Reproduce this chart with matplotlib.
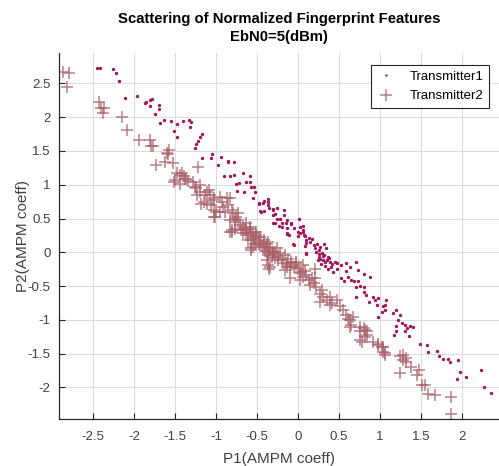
import numpy as np
import matplotlib.pyplot as plt

plt.rcParams["font.family"] = ["Liberation Sans", "DejaVu Sans"]

# Transmitter1 feature pairs (P1, P2)
t1_pts = [
    (-2.45, 2.73), (-2.41, 2.73), (-2.26, 2.71), (-2.22, 2.65), (-2.18, 2.54),
    (-2.11, 2.29), (-1.96, 2.31), (-1.87, 2.21), (-1.85, 2.23), (-1.81, 2.25),
    (-1.78, 2.27), (-1.80, 2.17), (-1.69, 2.18), (-1.69, 2.12), (-1.74, 2.04),
    (-1.68, 1.91), (-1.63, 1.96), (-1.55, 1.94), (-1.51, 1.79), (-1.48, 1.71),
    (-1.47, 1.90), (-1.40, 1.95), (-1.33, 1.96), (-1.31, 1.93), (-1.32, 1.85),
    (-1.17, 1.75), (-1.20, 1.70), (-1.22, 1.65), (-1.24, 1.61), (-1.25, 1.54),
    (-1.17, 1.40), (-1.05, 1.45), (-1.06, 1.39), (-0.94, 1.41), (-0.98, 1.29),
    (-0.85, 1.35), (-0.85, 1.33), (-0.78, 1.34), (-0.67, 1.18), (-0.90, 1.13),
    (-0.83, 1.13), (-0.78, 1.14), (-0.72, 1.03), (-0.75, 1.01), (-0.59, 1.13),
    (-0.58, 1.04), (-0.54, 0.96), (-0.52, 0.89), (-0.74, 0.91), (-0.66, 0.89),
    (-0.55, 0.81), (-0.48, 0.71), (-0.42, 0.76), (-0.43, 0.73), (-0.37, 0.79),
    (-0.37, 0.74), (-0.46, 0.61), (-0.41, 0.61), (-0.35, 0.66), (-0.64, 1.04),
    (-0.57, 0.97), (-0.47, 0.73), (-0.36, 0.70), (-0.45, 0.60), (-0.30, 0.63),
    (-0.31, 0.64), (-0.26, 0.66), (-0.28, 0.57), (-0.26, 0.50), (-0.30, 0.55),
    (-0.17, 0.55), (-0.17, 0.62), (-0.22, 0.50), (-0.20, 0.43), (-0.30, 0.44),
    (-0.28, 0.43), (-0.23, 0.39), (-0.15, 0.43), (-0.14, 0.48), (-0.08, 0.43),
    (-0.13, 0.36), (-0.20, 0.38), (-0.08, 0.42), (-0.05, 0.36), (-0.14, 0.28),
    (-0.11, 0.26), (-0.14, 0.27), (0.01, 0.49), (0.02, 0.38), (0.06, 0.39),
    (0.06, 0.33), (0.00, 0.30), (0.02, 0.29), (0.06, 0.30), (0.07, 0.26),
    (0.08, 0.24), (0.00, 0.24), (-0.06, 0.13), (-0.05, 0.11), (0.10, 0.14),
    (0.09, 0.09), (0.10, 0.18), (0.13, 0.21), (0.10, -0.01), (0.10, -0.03),
    (0.15, 0.16), (0.17, 0.19), (0.19, 0.11), (0.23, 0.13), (0.21, 0.07),
    (0.25, 0.04), (0.27, 0.08), (0.32, 0.12), (0.34, 0.06), (0.29, -0.01),
    (0.25, -0.07), (0.32, -0.04), (0.36, -0.07), (0.27, -0.10), (0.30, -0.11),
    (0.33, -0.14), (0.28, -0.17), (0.39, -0.14), (0.41, -0.17), (0.45, -0.14),
    (0.47, -0.16), (0.37, -0.24), (0.48, -0.24), (0.43, -0.29), (0.53, -0.19),
    (0.26, -0.02), (0.31, -0.06), (0.35, -0.11), (0.38, -0.09), (0.24, -0.12),
    (0.33, -0.20), (0.40, -0.21), (0.22, 0.00),
    (0.59, -0.16), (0.63, -0.21), (0.59, -0.27), (0.71, -0.15), (0.73, -0.26),
    (0.81, -0.32), (0.88, -0.37), (0.52, -0.38), (0.56, -0.42), (0.61, -0.37),
    (0.65, -0.41), (0.68, -0.43), (0.73, -0.43), (0.75, -0.50), (0.71, -0.52),
    (0.80, -0.52), (0.80, -0.58), (0.83, -0.63), (0.71, -0.66), (0.86, -0.73),
    (0.92, -0.66), (0.94, -0.71), (0.98, -0.68), (0.96, -0.78), (1.07, -0.70),
    (1.03, -0.80), (1.06, -0.86), (1.02, -0.89), (0.98, -0.96), (1.06, -0.78),
    (1.16, -0.90), (1.20, -0.85), (1.24, -0.93), (1.22, -1.00), (1.19, -1.09),
    (1.20, -1.16), (1.27, -1.05), (1.31, -1.08), (1.33, -1.12), (1.37, -1.09),
    (1.40, -1.11), (1.35, -1.24), (1.30, -1.17), (1.17, -1.22), (1.49, -1.35),
    (1.57, -1.37), (1.59, -1.47), (1.70, -1.46), (1.72, -1.53), (1.77, -1.58),
    (1.83, -1.58), (1.85, -1.63), (1.95, -1.60), (1.98, -1.77), (1.94, -1.88),
    (2.05, -1.84), (2.23, -1.74), (2.27, -1.99), (2.35, -2.08),
]

# Transmitter2 feature pairs (P1, P2)
t2_pts = [
    (-2.86, 2.67), (-2.79, 2.65), (-2.81, 2.45), (-2.42, 2.22), (-2.40, 2.13),
    (-2.37, 2.14), (-2.38, 2.06), (-2.14, 2.01), (-2.09, 1.81), (-1.94, 1.66),
    (-1.80, 1.66), (-1.77, 1.58), (-1.79, 1.57), (-1.73, 1.29), (-1.62, 1.34),
    (-1.60, 1.47), (-1.58, 1.45), (-1.57, 1.51), (-1.53, 1.32), (-1.51, 1.04),
    (-1.44, 1.01), (-1.47, 1.17), (-1.42, 1.17), (-1.39, 1.13), (-1.36, 1.09),
    (-1.28, 1.04), (-1.26, 0.97), (-1.22, 1.27), (-1.24, 0.95), (-1.20, 0.90),
    (-1.23, 0.85), (-1.15, 0.75), (-1.11, 0.90), (-1.07, 0.85), (-1.03, 0.80),
    (-1.11, 0.72), (-1.03, 0.63), (-1.03, 0.53), (-0.95, 0.82), (-0.93, 0.75),
    (-0.91, 0.67), (-0.95, 0.60), (-0.89, 0.60), (-0.83, 0.80), (-0.81, 0.63),
    (-0.79, 0.58), (-0.73, 0.58), (-0.77, 0.50), (-0.81, 0.30), (-0.71, 0.40),
    (-0.65, 0.35), (-0.61, 0.26), (-0.57, 0.18), (-0.51, 0.26), (-0.46, 0.13),
    (-0.55, 0.08), (-0.41, 0.18), (-0.38, 0.08), (-0.59, 0.35), (-0.63, 0.43),
    (-1.44, 1.14), (-1.50, 1.07), (-1.38, 1.09), (-1.34, 1.06), (-1.20, 1.00),
    (-1.18, 0.72), (-1.13, 0.85), (-1.09, 0.92), (-1.04, 0.77), (-1.06, 0.70),
    (-1.00, 0.60), (-1.01, 0.53), (-0.87, 0.80), (-0.85, 0.70), (-0.83, 0.48),
    (-0.81, 0.33), (-0.75, 0.53), (-0.73, 0.48), (-0.77, 0.45), (-0.67, 0.38),
    (-0.63, 0.33), (-0.57, 0.30), (-0.55, 0.21), (-0.52, 0.13), (-0.48, 0.23),
    (-0.46, 0.16), (-0.57, 0.06), (-0.42, 0.08), (-0.38, 0.13), (-0.34, 0.06),
    (-0.36, -0.01), (-0.32, -0.07), (-0.28, 0.01), (-0.38, -0.11), (-0.24, -0.11),
    (-0.18, -0.16), (-0.14, -0.21), (-0.08, -0.19), (-0.02, -0.16), (0.06, -0.19),
    (-0.59, 0.38), (-0.55, 0.28), (-0.51, 0.30), (-0.46, 0.23), (-0.57, 0.03),
    (-0.42, 0.13), (-0.36, 0.16), (-0.34, 0.03), (-0.30, 0.01), (-0.26, 0.06),
    (-0.22, -0.01), (-0.36, -0.19), (-0.28, -0.09), (-0.20, -0.11), (-0.16, -0.04),
    (-0.14, -0.16), (-0.10, -0.21), (-0.08, -0.14), (-0.02, -0.14), (0.00, -0.24),
    (0.04, -0.29), (0.06, -0.36), (0.10, -0.34), (0.13, -0.41), (0.17, -0.38),
    (0.19, -0.46), (0.21, -0.24), (0.22, -0.51), (0.27, -0.61), (0.29, -0.56),
    (0.31, -0.66), (0.35, -0.71), (0.39, -0.66), (0.41, -0.75), (0.47, -0.71),
    (0.51, -0.80), (0.55, -0.85), (0.59, -0.93), (0.63, -1.00), (0.67, -0.95),
    (0.63, -1.10), (0.76, -1.10), (0.80, -1.12), (0.84, -1.17), (0.82, -1.25),
    (0.76, -1.30), (0.92, -1.32), (0.98, -1.35), (1.02, -1.40), (1.04, -1.47),
    (1.06, -1.52), (1.28, -1.52), (1.32, -1.57),
    (-0.77, 0.35), (-0.63, 0.28), (-0.51, 0.18), (-0.36, -0.04), (-0.34, -0.21),
    (-0.16, -0.26), (-0.10, -0.38), (0.02, -0.41), (0.15, -0.48), (0.21, -0.38),
    (0.27, -0.73), (0.39, -0.78), (0.61, -0.98), (0.65, -1.08), (0.76, -1.17),
    (0.82, -1.15), (0.78, -1.32), (0.84, -1.22), (0.98, -1.37), (1.04, -1.40),
    (1.06, -1.49), (1.24, -1.54), (1.28, -1.59), (1.24, -1.79), (1.32, -1.62),
    (1.38, -1.69), (1.47, -1.74), (1.45, -1.82), (1.51, -1.96), (1.55, -1.97),
    (1.59, -2.09), (1.67, -2.11), (1.87, -2.14), (1.86, -2.39),
    (-0.83, 0.30), (-0.67, 0.28), (-0.61, 0.18), (-0.48, 0.13), (-0.44, 0.10),
    (-0.35, -0.24), (-0.40, 0.02), (-0.31, -0.03), (-0.25, -0.05), (-0.12, -0.10),
    (-0.05, -0.22), (0.03, -0.30), (0.08, -0.27), (-0.70, 0.33), (-0.53, 0.22),
]

t1_x = [p[0] for p in t1_pts]
t1_y = [p[1] for p in t1_pts]
t2_x = [p[0] for p in t2_pts]
t2_y = [p[1] for p in t2_pts]

fig = plt.figure(figsize=(4.99, 4.66), dpi=100)
ax = fig.add_axes([0.118, 0.101, 0.882, 0.785])

ax.plot(t2_x, t2_y, "+", color="#A85F68", alpha=0.8, markersize=9,
        markeredgewidth=1.1, label="Transmitter2", zorder=2)
ax.plot(t1_x, t1_y, ".", color="#A2155A", markersize=2.8,
        label="Transmitter1", zorder=3)

ax.set_xlim(-2.915, 2.45)
ax.set_ylim(-2.466, 2.948)
ax.set_xticks(np.arange(-2.5, 2.01, 0.5))
ax.set_yticks(np.arange(-2, 2.51, 0.5))
ax.set_xticklabels(["-2.5", "-2", "-1.5", "-1", "-0.5", "0", "0.5", "1", "1.5", "2"])
ax.set_yticklabels(["-2", "-1.5", "-1", "-0.5", "0", "0.5", "1", "1.5", "2", "2.5"])

ax.grid(True, color="#DCDCDC", linewidth=0.8)
ax.set_axisbelow(True)
for side in ("top", "right"):
    ax.spines[side].set_visible(False)
for side in ("left", "bottom"):
    ax.spines[side].set_color("#262626")
    ax.spines[side].set_linewidth(0.9)
ax.tick_params(direction="in", length=4, width=0.8, colors="#262626",
               labelcolor="#404040", labelsize=9.5)
ax.tick_params(axis="x", pad=9)
ax.tick_params(axis="y", pad=6)

ax.set_xlabel("P1(AMPM coeff)", fontsize=11, color="#404040", labelpad=6)
ax.set_ylabel("P2(AMPM coeff)", fontsize=11, color="#404040", labelpad=-2)
ax.set_title("Scattering of Normalized Fingerprint Features\nEbN0=5(dBm)",
             fontsize=10.7, fontweight="bold", pad=9, linespacing=1.3)

handles, labels = ax.get_legend_handles_labels()
leg = ax.legend(handles[::-1], labels[::-1], loc="upper right",
                bbox_to_anchor=(0.978, 0.968), fontsize=9.5, fancybox=False,
                framealpha=1, edgecolor="#262626", borderpad=0.45,
                handlelength=1.4, handletextpad=1.1, labelspacing=0.55,
                borderaxespad=0)
leg.get_frame().set_linewidth(0.8)
leg.legend_handles[0].set_markersize(2)
leg.legend_handles[0].set_color("#8B6A3A")

fig.savefig("out.png", dpi=100)
